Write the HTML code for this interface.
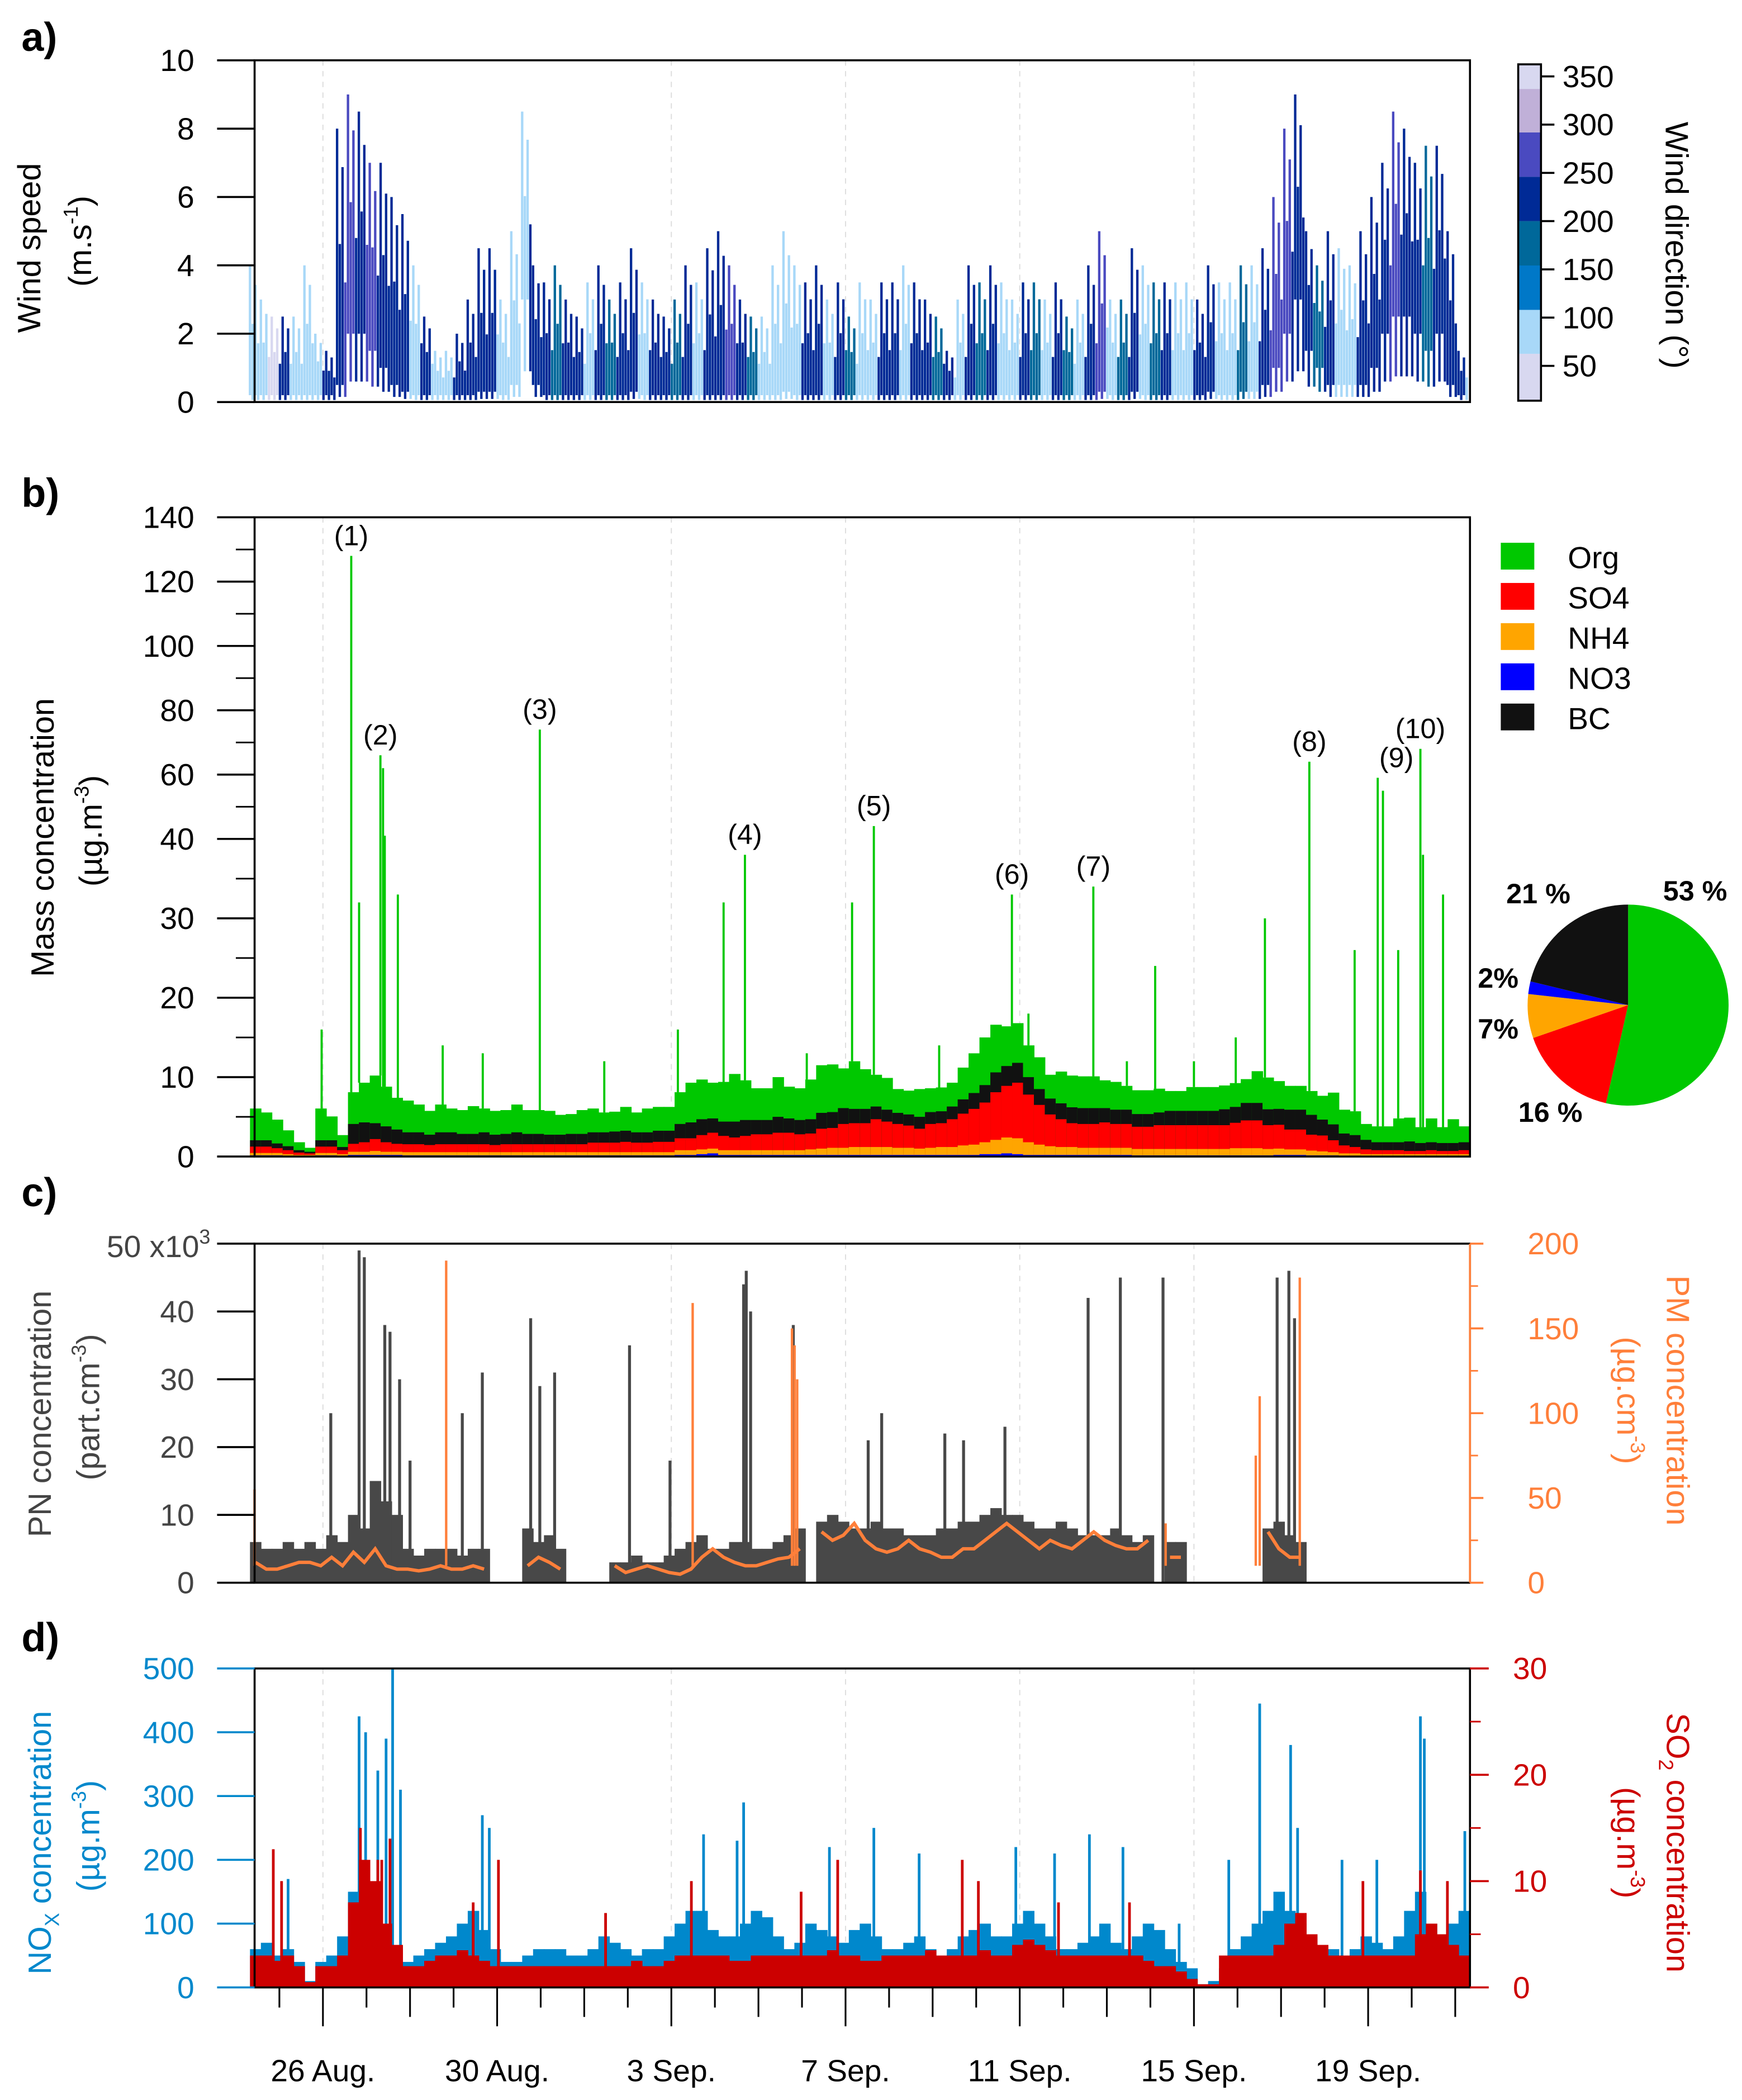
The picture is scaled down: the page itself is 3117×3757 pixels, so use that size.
<!DOCTYPE html>
<html><head><meta charset="utf-8">
<style>
html,body{margin:0;padding:0;background:#fff;}
svg{display:block;font-family:"Liberation Sans",sans-serif;}
</style></head>
<body>
<svg id="fig" width="3117" height="3757" viewBox="0 0 1300 1567" preserveAspectRatio="none" xmlns="http://www.w3.org/2000/svg"></svg>
<script>
// ---- time axis: t = days since 24 Aug 00:00, samples every 6 h ----
const t0 = 0.45, dt = 0.25, N = 112;
const dayTickLabels = ["26 Aug.","30 Aug.","3 Sep.","7 Sep.","11 Sep.","15 Sep.","19 Sep."];
const dayTickDays = [2,6,10,14,18,22,26];

// ---- panel a: wind ----
const wsMax = [4,3,2.5,2.5,2.5, 4,2,1.5,8, 9,8.5,7,7,6,
 5.5,4,2.5,1.5,1.5,2,3,4.5,4.5,3,5,8.5,4,
 3.5,4,3,2.5,3.5,4,3,3.5,4.5,3.5,3,2.5,
 3,4,3.5,4.5,5,4,3,2.5,2.5,4,5,4,
 3.5,4,3,3.5,2.5,3.5,3,3.5, 3.5,4,3.5,3,2.5,1.5,3,
 4,3.5,4,3.5,3,3.5,3.5,3, 3.5,2.5,3,4,5,3,3,
 4.5,4,3.5,3.5,3.5,3.5,3,4, 3.5,3.5,4,4,4.5,6,8,9,
 5,4,5,4.5,4,5,6, 7,8.5,8,7,7.5,7.5,5,1.5];
const wsMin = [0.2,0.2,0.2,0.2,0.2, 0.2,0.2,0.2,0.5, 2,2,1.5,1,0.5,
 0.3,0.2,0.2,0.2,0.2,0.2,0.2,0.3,0.3,0.2,0.5,3,0.5,
 0.2,0.2,0.2,0.2,0.2,0.2,0.2,0.2,0.3,0.2,0.2,0.2,
 0.2,0.2,0.2,0.2,0.2,0.2,0.2,0.2,0.2,0.2,0.3,0.2,
 0.2,0.2,0.2,0.2,0.2,0.2,0.2,0.2, 0.2,0.2,0.2,0.2,0.2,0.2,0.2,
 0.2,0.2,0.2,0.2,0.2,0.2,0.2,0.2, 0.2,0.2,0.2,0.2,0.3,0.2,0.2,
 0.3,0.2,0.2,0.2,0.2,0.2,0.2,0.3, 0.2,0.2,0.3,0.3,0.5,1,2,3,
 1.5,1,0.5,0.5,0.5,0.5,1, 2,2.5,2.5,2,1.5,2,0.5,0.2];
const wdir = [80,90,60,220,90, 100,80,220,230, 260,230,250,220,240,
 220,90,230,80,100,220,240,220,230,90,70,90,230,
 220,190,230,240,90,220,180,230,220,90,240,220,
 180,230,100,220,240,260,220,180,90,70,80,100,
 220,230,90,220,180,80,100,220, 230,90,220,230,180,220,90,
 220,180,230,90,100,220,190,80, 230,180,90,220,250,100,190,
 230,100,180,220,90,100,230,200, 90,100,180,80,230,250,260,230,
 220,180,230,100,80,220,240, 230,250,220,240,180,230,220,240];

// ---- panel b: aerosol composition (µg m-3) ----
const org = [4,3.5,3,2,1, 0.5,4,3,1.5, 4,5,6,5,4,
 4,3.5,3,3.5,3,3,3.5,3,3,3,3.5,3,3,
 3,2.5,2.5,3,3,2.5,2.5,3,2.5,3,3,3,
 4,5,5,4.5,5,6,5,4,4,5,4,4,
 5,6,6,5,6,5,4,4, 3,3,3.5,3,3,3,4,
 5,6,6,5,5,4,4,3, 4,4,4,4,3.5,3.5,3,
 3,3,3,2.5,2.5,3,3,3, 3,3,3,4,4,3.5,3,3,
 3,3,4,3,3,2,2, 2,3,3,2,3,2,3,2];
const so4 = [0.8,0.8,0.6,0.5,0.3, 0.2,0.8,0.8,0.5, 1,1.2,1.5,1.2,1,
 1,1,0.9,1,1,1,1,1,0.9,1,1,1,1,
 1,1,1,1,1.2,1.2,1.2,1.3,1.2,1.2,1.3,1.3,
 1.5,1.5,1.8,2,1.8,1.6,1.8,2,2,2.2,2.2,2,
 2,2.5,2.5,3,3,3,3.5,3.2, 3,2.8,2.5,3,3,3.5,4,
 4.5,5,6,6.5,7,6,5,4, 3.5,3,3,3,3.2,3,3,
 2.8,2.8,3,3,3,3,3,3, 3,3.2,3.5,3.5,3,3,2.5,2.5,
 2,2,1.5,1,0.8,0.6,0.5, 0.5,0.5,0.4,0.4,0.5,0.4,0.4,0.5];
const nh4 = [0.3,0.3,0.3,0.2,0.1, 0.1,0.3,0.3,0.2, 0.4,0.4,0.5,0.4,0.4,
 0.4,0.4,0.4,0.4,0.4,0.4,0.4,0.4,0.4,0.4,0.4,0.4,0.4,
 0.4,0.4,0.4,0.4,0.4,0.4,0.4,0.4,0.4,0.4,0.4,0.4,
 0.6,0.6,0.6,0.6,0.6,0.6,0.6,0.6,0.6,0.6,0.6,0.6,
 0.7,0.8,0.9,0.9,1,1,1,1, 0.9,0.9,0.8,0.9,1,1,1.2,
 1.3,1.5,1.8,2,2,1.6,1.3,1.1, 1,1,0.9,0.9,0.9,0.9,0.9,
 0.8,0.8,0.8,0.8,0.8,0.8,0.8,0.8, 0.8,0.9,0.9,0.9,0.8,0.8,0.7,0.7,
 0.6,0.5,0.4,0.3,0.3,0.2,0.2, 0.2,0.2,0.2,0.2,0.2,0.2,0.2,0.2];
const no3 = [0.15,0.15,0.15,0.1,0.1, 0.1,0.15,0.15,0.1, 0.2,0.2,0.2,0.2,0.2,
 0.15,0.15,0.15,0.15,0.15,0.15,0.15,0.15,0.15,0.15,0.15,0.15,0.15,
 0.15,0.15,0.15,0.15,0.15,0.15,0.15,0.15,0.15,0.15,0.15,0.15,
 0.2,0.2,0.3,0.4,0.2,0.2,0.2,0.2,0.2,0.2,0.2,0.2,
 0.2,0.2,0.2,0.2,0.2,0.2,0.2,0.2, 0.2,0.2,0.2,0.2,0.2,0.2,0.2,
 0.2,0.3,0.3,0.4,0.3,0.2,0.2,0.2, 0.2,0.2,0.2,0.2,0.2,0.2,0.2,
 0.15,0.15,0.15,0.15,0.15,0.15,0.15,0.15, 0.15,0.15,0.15,0.15,0.15,0.2,0.2,0.2,
 0.15,0.15,0.15,0.1,0.1,0.1,0.1, 0.1,0.1,0.1,0.1,0.1,0.1,0.1,0.1];
const bc = [0.8,0.8,0.6,0.5,0.3, 0.2,0.8,0.8,0.4, 2.5,2.5,2,2,1.8,
 1.5,1.5,1.3,1.5,1.5,1.3,1.3,1.5,1.3,1.3,1.5,1.3,1.3,
 1.2,1.2,1.3,1.3,1.3,1.3,1.4,1.4,1.3,1.3,1.4,1.4,
 1.8,2,2,1.8,1.8,2,2,1.8,1.8,2,1.8,1.8,
 1.8,2,2,2,1.8,1.8,1.6,1.5, 1.4,1.4,1.5,1.5,1.5,1.6,1.8,
 2,2.2,2.5,2.5,2.5,2.2,2,2, 2,2,2,2,1.8,1.8,1.8,
 1.6,1.6,1.6,1.8,1.8,1.8,1.8,1.8, 2,2,2.2,2.2,2,2,2.5,2.5,
 2.5,2,2,1.5,1.5,1.2,1, 1,1,1.2,1,1,1,1,1];
const orgSpikeDays = [1.97,2.65,2.83,3.32,3.38,3.42,3.72,4.75,5.67,6.98,8.46,10.15,11.2,11.69,13.11,14.15,14.65,16.15,18.2,17.82,19.69,20.46,21.11,22.0,22.96,23.63,24.65,25.69,26.22,26.34,26.69,27.2,27.26,27.72];
const orgSpikeVals = [16,128,32,66,62,41,33,14,13,74,12,16,32,38,13,32,44,14,18,33,34,12,24,12,15,30,64,26,59,55,26,68,38,33];
const peakLabels = ["(1)","(2)","(3)","(4)","(5)","(6)","(7)","(8)","(9)","(10)"];
const peakLabelDays = [2.65,3.32,6.98,11.69,14.65,17.82,19.69,24.65,26.65,27.2];
const peakLabelVals = [128,66,74,38,44,33,34,64,59,68];
const pieLabels = ["Org","SO4","NH4","NO3","BC"];
const pieShares = [53,16,7,2,21];

// ---- panel c: PN (x10^3 part cm-3) and PM (µg cm-3) ----
const pn = [6,5,5,6,5, 6,5,7,6, 10,8,15,12,10,
 5,4,5,5,5,4,5,5, null,null,null, 8,6,7,5, null,null,null,null,
 3,3,4,3,3,4,5,6,7,5,5,6,6,5,5,6,7,8, null,
 9,10,9,8,8,9,8,8,7,7,7,8,8,9,9,10,11,10,10,9,8,8,9,8,7,7,7,8,7,6,
 7,null, 6,6, null,null,null,null,null,null,null, 8,9,7,6,
 null,null,null,null,null,null,null,null,null,null,null,null,null,null,null];
const pm = [12,8,8,10,12, 12,10,15,10, 18,12,20,10,8,
 8,7,8,10,8,8,10,8, null,null,null, 10,15,12,8, null,null,null,null,
 10,6,8,10,8,6,5,8,15,20,15,12,10,10,12,14,15,20, null,
 30,25,28,35,25,20,18,20,25,20,18,15,15,20,20,25,30,35,30,25,20,25,22,20,25,30,25,22,20,20,
 25,null, 15,15, null,null,null,null,null,null,null, 30,20,15,15,
 null,null,null,null,null,null,null,null,null,null,null,null,null,null,null];
const pnSpikeDays = [2.18,2.83,2.95,3.42,3.54,3.76,4.0,5.2,5.66,6.77,6.98,7.32,9.04,9.97,11.72,11.66,11.82,12.8,14.52,14.83,16.28,16.71,17.66,19.57,20.31,21.29,23.91,24.18,24.31];
const pnSpikeVals = [25,49,48,38,37,30,18,25,31,39,29,31,35,18,46,44,40,38,21,25,22,21,23,42,45,45,45,46,39];
const pmSpikeDays = [0.43,4.83,10.49,12.77,12.83,12.89,21.35,23.42,23.51,24.43];
const pmSpikeVals = [55,190,165,150,140,120,35,75,110,180];

// ---- panel d: NOx (µg m-3) and SO2 (µg m-3) ----
const nox = [60,70,50,60,40, 10,40,50,80, 150,120,100,80,60,
 40,50,60,70,80,100,120,90,60,40,40,50,60,
 60,60,50,50,60,80,70,60,50,60,60,80,
 100,120,120,90,80,80,100,120,110,80,60,70,
 100,90,80,70,90,100,80,60, 60,70,80,60,50,60,80,
 90,100,80,80,100,120,100,80, 60,60,70,80,100,70,60,
 80,100,90,60,40,30,5,10, 30,60,80,100,120,150,120,100,
 80,60,60,50,60,80,70, 60,80,120,150,100,80,100,120];
const so2 = [3,3,2.5,3,2, 0.5,2,2,3, 8,12,10,6,4,
 2,2,2.5,3,3,3.5,3,2.5,2,2,2,2,2,
 2,2,2,2,2,2,2,2,2.5,2,2,2.5,
 3,3,3,3,3,2.5,2.5,3,3,3,3,3,
 3,3,3.5,3,3,2.5,2.5,3, 3,3,3,3.5,3,3,3,
 3,3.5,3,3,4,4.5,4,3.5, 3,3,3,3,3,3,3,
 3,2.5,2,2,1.5,0.8,0.3,0.3, 3,3,3,3,3,4,6,7,
 5,4,3,3,3,3,3, 3,3,3,5,6,5,4,3];
const noxSpikeDays = [1.2,2.83,2.98,3.26,3.45,3.6,3.78,5.66,5.82,10.74,11.66,11.51,13.63,14.65,15.69,17.91,18.8,19.6,20.37,21.66,22.8,23.51,24.22,24.38,25.4,26.2,27.2,27.29,28.22];
const noxSpikeVals = [170,425,400,340,390,500,310,270,250,240,290,230,220,250,210,220,210,240,220,100,200,445,380,250,200,200,425,390,245];
const so2SpikeDays = [0.86,1.05,2.86,3.26,3.35,3.54,5.45,6.03,8.49,10.46,12.98,13.82,16.68,17.05,18.89,20.52,25.88,27.2,27.82];
const so2SpikeVals = [13,10,15,12,12,14,8,12,7,10,9,12,12,10,8,8,10,11,10];
</script>
<script>
const svg = document.getElementById('fig');
const NS = 'http://www.w3.org/2000/svg';
function el(tag, attrs, parent){ const e=document.createElementNS(NS,tag); for(const k in attrs) e.setAttribute(k,attrs[k]); (parent||svg).appendChild(e); return e; }
function txt(s, attrs, parent){ const e=el('text',attrs,parent); e.textContent=s; return e; }
const X0=190, X1=1097;
const xs = t => 176 + 32.5*t;
const tAt = i => t0 + dt*i;
const bw = 32.5*dt;
const TL = 28, LX = X0-45;

const A={top:45,bot:300}, B={top:386,bot:863}, C={top:928,bot:1181}, D={top:1245,bot:1483};
const ya = v => A.bot - v*(A.bot-A.top)/10;
const yb = v => v<=40 ? B.bot - v*5.925 : 626 - (v-40)*2.4;
const ycL = v => C.bot - v*(C.bot-C.top)/50;
const ycR = v => C.bot - v*(C.bot-C.top)/200;
const ydL = v => D.bot - v*(D.bot-D.top)/500;
const ydR = v => D.bot - v*(D.bot-D.top)/30;

function grid(P){ [2,10,14,18,22].forEach(d=>{ const g=el('line',{x1:xs(d),x2:xs(d),y1:P.top,y2:P.bot,stroke:'#ddd','stroke-width':0.8,'stroke-dasharray':'4 4'});   }); }
[A,B,C,D].forEach(grid);

[['a)',38],['b)',378],['c)',900],['d)',1232]].forEach(([s,y])=>{ const e=txt(s,{x:16,y:y,'font-size':30,'font-weight':'bold'});   });

// ---------- Panel A ----------
const dirBins=[14,62.5,108,154,200,246,292,337,362.5];
const dirCols=['#d8d8f0','#a8d8f8','#0078c8','#00689a','#002a96','#4a4ac0','#c0b0d8','#d8d8f0'];
function dirColor(d){ for(let k=0;k<8;k++) if(d<dirBins[k+1]) return dirCols[k]; return dirCols[7]; }
const gA=el('g',{});  
const subFrac=[1,0.55,0.85,0.4];
const subOff=[0,0.25,0.5,0.75];
for(let i=0;i<N;i++){
  const x=xs(tAt(i))-bw/2;
  for(let s=0;s<4;s++){
    const hi=wsMin[i]+(wsMax[i]-wsMin[i])*subFrac[s];
    const lo=Math.max(0.05,wsMin[i]*(s%2?0.3:1));
    const col=dirColor(s===3?wdir[(i+1)%N]:wdir[i]);
    const l=el('line',{x1:x+bw*subOff[s],x2:x+bw*subOff[s],y1:ya(hi),y2:ya(lo),stroke:col,'stroke-width':1.8},gA);
     
  }
}
function frame(P,name){ const f=el('rect',{x:X0,y:P.top,width:X1-X0,height:P.bot-P.top,fill:'none',stroke:'#000','stroke-width':1.5});   }
frame(A,'plot-frame-a');
[0,2,4,6,8,10].forEach(v=>{ el('line',{x1:X0-TL,x2:X0,y1:ya(v),y2:ya(v),stroke:'#000','stroke-width':1.5}); const e=txt(String(v),{x:LX,y:ya(v)+8,'font-size':23,'text-anchor':'end'});   });
let e;
e=txt('Wind speed',{transform:'translate(30,185) rotate(-90)','font-size':24,'text-anchor':'middle'});  
e=el('text',{transform:'translate(68,180) rotate(-90)','font-size':24,'text-anchor':'middle'}); e.innerHTML='(m.s<tspan font-size="15" dy="-10">-1</tspan><tspan dy="10">)</tspan>';  
const cbTop=48, cbBot=299, cbv=v=>273-(v-50)*36/50;
for(let k=0;k<8;k++){ const r=el('rect',{x:1133,y:cbv(dirBins[k+1]),width:17,height:cbv(dirBins[k])-cbv(dirBins[k+1]),fill:dirCols[k]});   }
el('rect',{x:1133,y:cbTop,width:17,height:cbBot-cbTop,fill:'none',stroke:'#000','stroke-width':1.5});
[50,100,150,200,250,300,350].forEach(v=>{ el('line',{x1:1150,x2:1160,y1:cbv(v),y2:cbv(v),stroke:'#000','stroke-width':1.5}); const t=txt(String(v),{x:1166,y:cbv(v)+8,'font-size':23});   });
e=txt('Wind direction (°)',{transform:'translate(1243,183) rotate(90)','font-size':24,'text-anchor':'middle'});  

// ---------- Panel B ----------
const comps=[[no3,'#0000ff'],[nh4,'#ffa500'],[so4,'#ff0000'],[bc,'#111111'],[org,'#00c800']];
const gB=el('g',{});  
const stackTop=[];
for(let i=0;i<N;i++){
  let cum=0; const x=xs(tAt(i));
  const tops=[]; comps.forEach(c=>{ cum+=c[0][i]; tops.push(cum); });
  stackTop.push(cum);
  for(let k=4;k>=0;k--){ const r=el('rect',{x:x-bw/2,y:yb(tops[k]),width:bw+0.4,height:B.bot-yb(tops[k]),fill:comps[k][1]},gB);   }
}
orgSpikeDays.forEach((d,j)=>{ const i=Math.max(0,Math.min(N-1,Math.round((d-t0)/dt))); const l=el('line',{x1:xs(d),x2:xs(d),y1:yb(stackTop[i]),y2:yb(orgSpikeVals[j]),stroke:'#00c800','stroke-width':1.6},gB);   });
peakLabels.forEach((s,j)=>{ const t=txt(s,{x:xs(peakLabelDays[j]),y:yb(peakLabelVals[j])-8,'font-size':21,'text-anchor':'middle'});   });
frame(B,'plot-frame-b');
[0,10,20,30,40,60,80,100,120,140].forEach(v=>{ el('line',{x1:X0-TL,x2:X0,y1:yb(v),y2:yb(v),stroke:'#000','stroke-width':1.5}); const t=txt(String(v),{x:LX,y:yb(v)+8,'font-size':23,'text-anchor':'end'});   });
[5,15,25,35,50,70,90,110,130].forEach(v=>el('line',{x1:X0-14,x2:X0,y1:yb(v),y2:yb(v),stroke:'#000','stroke-width':1.2}));
e=txt('Mass concentration',{transform:'translate(40,625) rotate(-90)','font-size':24,'text-anchor':'middle'});  
e=el('text',{transform:'translate(76,620) rotate(-90)','font-size':24,'text-anchor':'middle'}); e.innerHTML='(µg.m<tspan font-size="15" dy="-10">-3</tspan><tspan dy="10">)</tspan>';  
const legCols=['#00c800','#ff0000','#ffa500','#0000ff','#111111'];
pieLabels.forEach((s,k)=>{ const y=405+k*30; const r=el('rect',{x:1120,y:y,width:25,height:20,fill:legCols[k]});   const t=txt(s,{x:1170,y:y+19,'font-size':23});   });
const pcx=1215,pcy=750,pr=75; const tot=pieShares.reduce((a,b)=>a+b,0); let ang=-Math.PI/2;
pieShares.forEach((s,k)=>{ const a2=ang+s/tot*2*Math.PI; const large=(a2-ang)>Math.PI?1:0;
  const p=el('path',{d:`M${pcx},${pcy} L${pcx+pr*Math.cos(ang)},${pcy+pr*Math.sin(ang)} A${pr},${pr} 0 ${large} 1 ${pcx+pr*Math.cos(a2)},${pcy+pr*Math.sin(a2)} Z`,fill:legCols[k]});
    ang=a2; });
[['53 %',1265,672],['21 %',1148,674],['2%',1118,737],['7%',1118,775],['16 %',1157,837]].forEach(([s,x,y])=>{ const t=txt(s,{x:x,y:y,'font-size':21,'font-weight':'bold','text-anchor':'middle'});   });

// ---------- Panel C ----------
const gC=el('g',{});  
for(let i=0;i<N;i++){ if(pn[i]===null) continue; const x=xs(tAt(i)); const r=el('rect',{x:x-bw/2,y:ycL(pn[i]),width:bw+0.4,height:C.bot-ycL(pn[i]),fill:'#484848'},gC);   }
pnSpikeDays.forEach((d,j)=>{ const l=el('line',{x1:xs(d),x2:xs(d),y1:C.bot,y2:ycL(pnSpikeVals[j]),stroke:'#484848','stroke-width':2.2},gC);   });
let segs=[],cur=[];
for(let i=0;i<N;i++){ if(pm[i]===null){ if(cur.length) segs.push(cur); cur=[]; } else cur.push(xs(tAt(i))+','+ycR(pm[i])); }
if(cur.length) segs.push(cur);
segs.forEach(s=>{ if(s.length===1){ const [a,b]=s[0].split(','); s=[(+a-3)+','+b,(+a+3)+','+b]; } const p=el('polyline',{points:s.join(' '),fill:'none',stroke:'#ff7f3a','stroke-width':2.5});   });
pmSpikeDays.forEach((d,j)=>{ const l=el('line',{x1:xs(d),x2:xs(d),y1:ycR(10),y2:ycR(pmSpikeVals[j]),stroke:'#ff7f3a','stroke-width':1.8});   });
frame(C,'plot-frame-c');
el('line',{x1:X1,x2:X1,y1:C.top,y2:C.bot,stroke:'#ff7f3a','stroke-width':1.5});
[0,10,20,30,40].forEach(v=>{ el('line',{x1:X0-TL,x2:X0,y1:ycL(v),y2:ycL(v),stroke:'#000','stroke-width':1.5}); const t=txt(String(v),{x:LX,y:ycL(v)+8,'font-size':23,'text-anchor':'end',fill:'#444'});   });
el('line',{x1:X0-TL,x2:X0,y1:ycL(50),y2:ycL(50),stroke:'#000','stroke-width':1.5});
e=el('text',{x:LX+12,y:ycL(50)+10,'font-size':23,'text-anchor':'end',fill:'#444'}); e.innerHTML='50 x10<tspan font-size="15" dy="-10">3</tspan>';  
[0,50,100,150,200].forEach(v=>{ el('line',{x1:X1,x2:X1+10,y1:ycR(v),y2:ycR(v),stroke:'#ff7f3a','stroke-width':1.5}); const t=txt(String(v),{x:X1+43,y:ycR(v)+8,'font-size':23,fill:'#ff7f3a'});   });
[25,75,125,175].forEach(v=>el('line',{x1:X1,x2:X1+6,y1:ycR(v),y2:ycR(v),stroke:'#ff7f3a','stroke-width':1.2}));
e=txt('PN concentration',{transform:'translate(38,1055) rotate(-90)','font-size':24,'text-anchor':'middle',fill:'#444'});  
e=el('text',{transform:'translate(74,1050) rotate(-90)','font-size':24,'text-anchor':'middle',fill:'#444'}); e.innerHTML='(part.cm<tspan font-size="15" dy="-10">-3</tspan><tspan dy="10">)</tspan>';  
e=txt('PM concentration',{transform:'translate(1244,1045) rotate(90)','font-size':24,'text-anchor':'middle',fill:'#ff7f3a'});  
e=el('text',{transform:'translate(1207,1045) rotate(90)','font-size':24,'text-anchor':'middle',fill:'#ff7f3a'}); e.innerHTML='(µg.cm<tspan font-size="15" dy="-10">-3</tspan><tspan dy="10">)</tspan>';  

// ---------- Panel D ----------
const gD=el('g',{});  
for(let i=0;i<N;i++){ const x=xs(tAt(i)); const r=el('rect',{x:x-bw/2,y:ydL(nox[i]),width:bw+0.4,height:D.bot-ydL(nox[i]),fill:'#0088cc'},gD);   }
noxSpikeDays.forEach((d,j)=>{ const l=el('line',{x1:xs(d),x2:xs(d),y1:D.bot,y2:ydL(noxSpikeVals[j]),stroke:'#0088cc','stroke-width':2},gD);   });
const gD2=el('g',{});  
for(let i=0;i<N;i++){ const x=xs(tAt(i)); const r=el('rect',{x:x-bw/2,y:ydR(so2[i]),width:bw+0.4,height:D.bot-ydR(so2[i]),fill:'#cc0000'},gD2);   }
so2SpikeDays.forEach((d,j)=>{ const l=el('line',{x1:xs(d),x2:xs(d),y1:D.bot,y2:ydR(so2SpikeVals[j]),stroke:'#cc0000','stroke-width':2},gD2);   });
frame(D,'plot-frame-d');
[0,100,200,300,400,500].forEach(v=>{ el('line',{x1:X0-TL,x2:X0,y1:ydL(v),y2:ydL(v),stroke:'#0088cc','stroke-width':1.5}); const t=txt(String(v),{x:LX,y:ydL(v)+8,'font-size':23,'text-anchor':'end',fill:'#0088cc'});   });
[0,10,20,30].forEach(v=>{ el('line',{x1:X1,x2:X1+14,y1:ydR(v),y2:ydR(v),stroke:'#cc0000','stroke-width':1.5}); const t=txt(String(v),{x:X1+32,y:ydR(v)+8,'font-size':23,fill:'#cc0000'});   });
[5,15,25].forEach(v=>el('line',{x1:X1,x2:X1+8,y1:ydR(v),y2:ydR(v),stroke:'#cc0000','stroke-width':1.2}));
e=el('text',{transform:'translate(38,1375) rotate(-90)','font-size':24,'text-anchor':'middle',fill:'#0088cc'}); e.innerHTML='NO<tspan font-size="15" dy="6">X</tspan><tspan dy="-6"> concentration</tspan>';  
e=el('text',{transform:'translate(74,1370) rotate(-90)','font-size':24,'text-anchor':'middle',fill:'#0088cc'}); e.innerHTML='(µg.m<tspan font-size="15" dy="-10">-3</tspan><tspan dy="10">)</tspan>';  
e=el('text',{transform:'translate(1244,1375) rotate(90)','font-size':24,'text-anchor':'middle',fill:'#cc0000'}); e.innerHTML='SO<tspan font-size="15" dy="6">2</tspan><tspan dy="-6"> concentration</tspan>';  
e=el('text',{transform:'translate(1207,1375) rotate(90)','font-size':24,'text-anchor':'middle',fill:'#cc0000'}); e.innerHTML='(µg.m<tspan font-size="15" dy="-10">-3</tspan><tspan dy="10">)</tspan>';  

for(let d=1; d<=28; d++){ const len = (d%4===2)?29:(d%2===0?22:15); const l=el('line',{x1:xs(d),x2:xs(d),y1:D.bot,y2:D.bot+len,stroke:'#000','stroke-width':1.3});   }
dayTickLabels.forEach((s,k)=>{ const t=txt(s,{x:xs(dayTickDays[k]),y:1553,'font-size':23,'text-anchor':'middle'});   });
</script>
</body></html>
